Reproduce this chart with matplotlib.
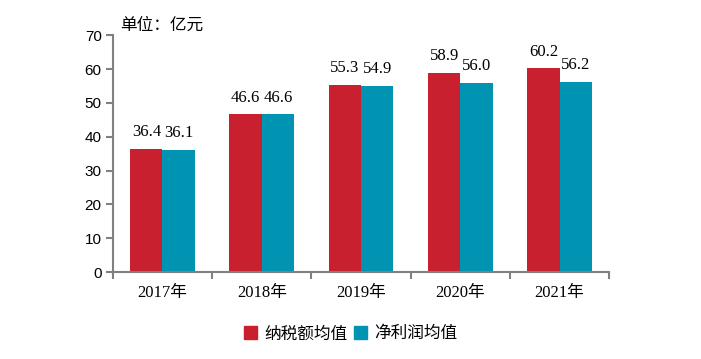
import numpy as np
import matplotlib.pyplot as plt
from matplotlib.patches import Patch

years = ["2017年", "2018年", "2019年", "2020年", "2021年"]
tax_mean = [36.4, 46.6, 55.3, 58.9, 60.2]
profit_mean = [36.1, 46.6, 54.9, 56.0, 56.2]
series_names = ["纳税额均值", "净利润均值"]

red = "#C8202F"
blue = "#0093B2"
grey = "#808080"
serif = ["Liberation Serif", "Noto Sans CJK SC"]
cjk = ["Noto Sans CJK SC", "DejaVu Sans"]

fig = plt.figure(figsize=(7.01, 3.59), dpi=100)
ax = fig.add_axes([0.161, 0.242, 0.708, 0.66])

x = np.arange(len(years))
w = 0.325
b1 = ax.bar(x - w / 2, tax_mean, w, color=red)
b2 = ax.bar(x + w / 2, profit_mean, w, color=blue)

for bars, vals in [(b1, tax_mean), (b2, profit_mean)]:
    for r, v in zip(bars, vals):
        ax.text(r.get_x() + r.get_width() / 2, v + 2.6, f"{v:.1f}",
                ha="center", va="bottom", fontsize=12, family=serif)

ax.set_xlim(-0.5, len(years) - 0.5)
ax.set_ylim(0, 70)
ax.set_yticks(range(0, 71, 10))
ax.set_yticklabels([str(v) for v in range(0, 71, 10)], fontsize=11,
                   family=["Liberation Sans"])
ax.set_xticks(x)
ax.set_xticklabels(years, fontsize=12, family=serif)
ax.tick_params(axis="x", length=0, pad=9)
ax.set_xticks(np.arange(-0.5, len(years)), minor=True)
ax.tick_params(axis="x", which="minor", length=5, color=grey, width=1.5)
ax.tick_params(axis="y", length=5, color=grey, width=1.5, pad=3)

for s in ["top", "right"]:
    ax.spines[s].set_visible(False)
for s in ["left", "bottom"]:
    ax.spines[s].set_color(grey)
    ax.spines[s].set_linewidth(1.5)

fig.text(0.172, 0.93, "单位：亿元", fontsize=12, family=cjk, va="center")

handles = [Patch(color=red), Patch(color=blue)]
fig.legend(handles, series_names, loc="center", bbox_to_anchor=(0.5, 0.07),
           ncol=2, frameon=False, prop={"family": cjk, "size": 12},
           handlelength=0.8, handleheight=0.8, handletextpad=0.4,
           columnspacing=0.4)

fig.savefig("out.png", dpi=100)
